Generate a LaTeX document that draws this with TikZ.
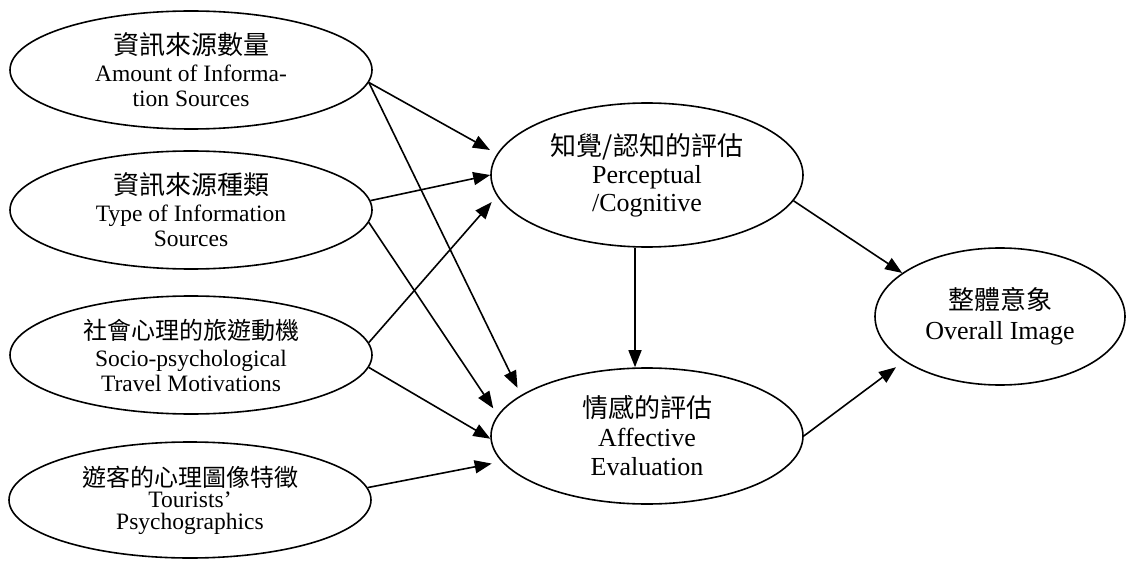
\documentclass[tikz,border=0pt]{standalone}
\usepackage{fontspec}
\setmainfont{Liberation Serif}
\newfontfamily\cjk{Noto Sans CJK TC}
\usetikzlibrary{shapes.geometric,arrows.meta}
\newcommand{\zhline}[2][26]{{\cjk\fontsize{#1}{#1}\selectfont #2}}
\begin{document}
\begin{tikzpicture}[x=1pt,y=-1pt,
  oval/.style={ellipse, draw, line width=1.6pt, inner sep=0pt, align=center},
  leftoval/.style={oval, minimum width=362pt, minimum height=118pt, font=\fontsize{23.5}{25}\selectfont},
  rightoval/.style={oval, font=\fontsize{26}{28}\selectfont},
  link/.style={line width=1.6pt, -{Triangle[length=17pt,width=13pt]}},
]
\useasboundingbox (0,0) rectangle (1126,561);

\node[leftoval] (E1) at (191,70) {\zhline{資訊來源數量}\\[2pt]Amount of Informa-\\tion Sources};
\node[leftoval] (E2) at (191,210) {\zhline{資訊來源種類}\\[2pt]Type of Information\\Sources};
\node[leftoval] (E3) at (191,355) {\zhline[24]{社會心理的旅遊動機}\\[2pt]Socio-psychological\\Travel Motivations};
\node[leftoval, minimum height=116pt] (E4) at (190,500) {\zhline[24]{遊客的心理圖像特徵}\\[-4pt]Tourists'\\[-3pt]Psychographics};

\node[rightoval, minimum width=312pt, minimum height=144pt] (P) at (647,175) {\zhline{知覺/認知的評估}\\Perceptual\\/Cognitive};
\node[rightoval, minimum width=312pt, minimum height=136pt] (A) at (647,436) {\zhline{情感的評估}\\[1pt]Affective\\[1pt]Evaluation};
\node[rightoval, minimum width=250pt, minimum height=137pt] (O) at (1000,316.5) {\zhline{整體意象}\\[2pt]Overall Image};

\draw[link, shorten >=8pt] (E1.-4) -- (P.172);
\draw[link, shorten >=8pt] (E1.-4) -- (A.162);
\draw[link] (E2.3) -- (P.180);
\draw[link, shorten >=8pt] (E2.-4) -- (A.172);
\draw[link, shorten >=8pt] (E3.4) -- (P.188);
\draw[link] (E3.-4) -- (A.181);
\draw[link, shorten >=10pt] (E4.4) -- (A.190);
\draw[link] ([xshift=-12pt]P.south) -- ([xshift=-12pt]A.north);
\draw[link] (P.-10) -- (O.156);
\draw[link, shorten >=10pt] (A.east) -- (O.205);
\end{tikzpicture}
\end{document}
